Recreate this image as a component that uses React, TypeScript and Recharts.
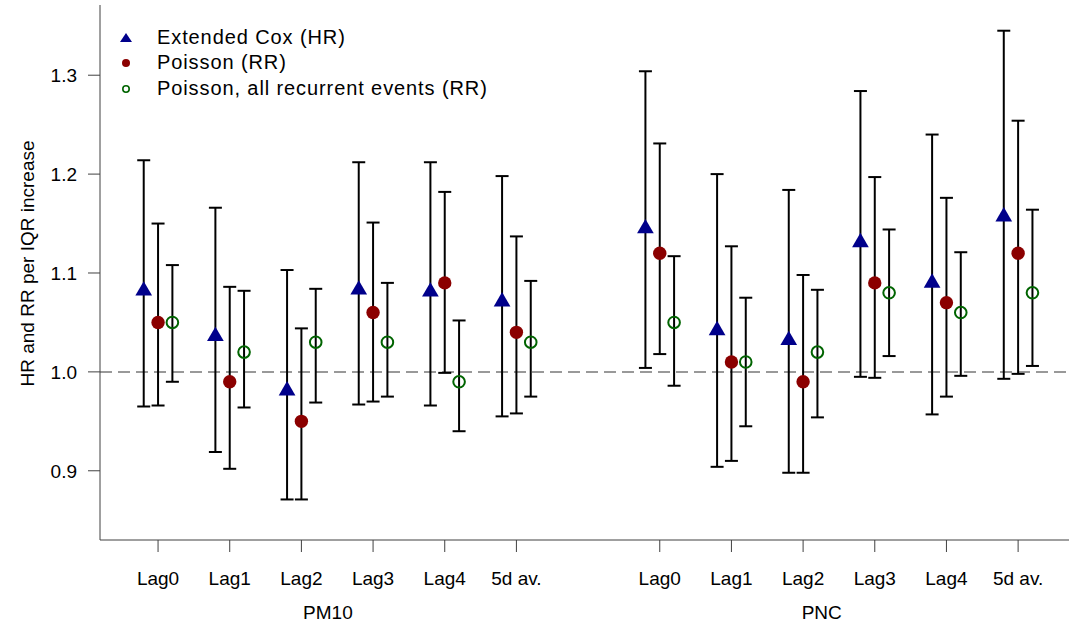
import React from "react";
import {
  ComposedChart,
  Scatter,
  ErrorBar,
  XAxis,
  YAxis,
  ReferenceLine,
} from "recharts";

// lag labels repeat for the two pollutants, PM10 at 1..6 and PNC at 8..13
const lagLabels = ["Lag0", "Lag1", "Lag2", "Lag3", "Lag4", "5d av."];
const lagPos = [1, 2, 3, 4, 5, 6, 8, 9, 10, 11, 12, 13];
const groupLabels = ["PM10", "PNC"];
const groupPos = [3.37, 10.26];
const yTicks = [0.9, 1.0, 1.1, 1.2, 1.3];

// extended Cox model, HR with 95% CI
const coxEst = [1.082, 1.036, 0.981, 1.083, 1.081, 1.071, 1.145, 1.042, 1.032, 1.131, 1.09, 1.157];
const coxLo = [0.965, 0.919, 0.871, 0.967, 0.966, 0.955, 1.004, 0.904, 0.898, 0.995, 0.957, 0.993];
const coxHi = [1.214, 1.166, 1.103, 1.212, 1.212, 1.198, 1.304, 1.2, 1.184, 1.284, 1.24, 1.345];

// Poisson, RR
const poisEst = [1.05, 0.99, 0.95, 1.06, 1.09, 1.04, 1.12, 1.01, 0.99, 1.09, 1.07, 1.12];
const poisLo = [0.966, 0.902, 0.871, 0.97, 0.999, 0.958, 1.018, 0.91, 0.898, 0.994, 0.975, 0.998];
const poisHi = [1.15, 1.086, 1.044, 1.151, 1.182, 1.137, 1.231, 1.127, 1.098, 1.197, 1.176, 1.254];

// Poisson with all recurrent events, RR
const recEst = [1.05, 1.02, 1.03, 1.03, 0.99, 1.03, 1.05, 1.01, 1.02, 1.08, 1.06, 1.08];
const recLo = [0.99, 0.964, 0.969, 0.975, 0.94, 0.975, 0.986, 0.945, 0.954, 1.016, 0.996, 1.006];
const recHi = [1.108, 1.082, 1.084, 1.09, 1.052, 1.092, 1.117, 1.075, 1.083, 1.144, 1.121, 1.164];

const xDomain = [0.19, 13.71];
const yDomain = [0.83, 1.371];

const BLUE = "#00008B";
const RED = "#8B0000";
const GREEN = "#006400";
const AXIS = "#404040";
const FONT = "'Liberation Sans', Arial, sans-serif";

const series = (est: number[], lo: number[], hi: number[], off: number) =>
  lagPos.map((p, i) => ({
    x: p + off,
    y: est[i],
    err: [est[i] - lo[i], hi[i] - est[i]],
  }));

const coxData = series(coxEst, coxLo, coxHi, -0.2);
const poisData = series(poisEst, poisLo, poisHi, 0);
const recData = series(recEst, recLo, recHi, 0.2);

const Triangle = (props: any) => {
  const { cx, cy } = props;
  const w = 16.7;
  const h = 14.4;
  return (
    <polygon
      points={`${cx},${cy - (2 * h) / 3} ${cx + w / 2},${cy + h / 3} ${cx - w / 2},${cy + h / 3}`}
      fill={BLUE}
    />
  );
};

const Dot = (props: any) => <circle cx={props.cx} cy={props.cy} r={6.7} fill={RED} />;

const Ring = (props: any) => (
  <circle cx={props.cx} cy={props.cy} r={5.8} fill="none" stroke={GREEN} strokeWidth={2} />
);

const legendRows = [
  { name: "Extended Cox (HR)", kind: "tri" },
  { name: "Poisson (RR)", kind: "dot" },
  { name: "Poisson, all recurrent events (RR)", kind: "ring" },
];

const LegendBox = () => (
  <div
    style={{
      position: "absolute",
      left: 114,
      top: 24,
      fontFamily: FONT,
      fontSize: 20,
      color: "#000",
      lineHeight: 1,
    }}
  >
    {legendRows.map((r) => (
      <div key={r.name} style={{ display: "flex", alignItems: "center", height: 25.5 }}>
        <svg width={24} height={20} style={{ marginRight: 19 }}>
          {r.kind === "tri" && <polygon points="12,6 18,15 6,15" fill={BLUE} />}
          {r.kind === "dot" && <circle cx={12} cy={11} r={4} fill={RED} />}
          {r.kind === "ring" && (
            <circle cx={12} cy={11} r={3.2} fill="none" stroke={GREEN} strokeWidth={1.6} />
          )}
        </svg>
        <span style={{ letterSpacing: 0.9 }}>{r.name}</span>
      </div>
    ))}
  </div>
);

const YLabel = (props: any) => {
  const { viewBox } = props;
  const cx = 27;
  const cy = viewBox.y + viewBox.height / 2 - 9;
  return (
    <text
      x={cx}
      y={cy}
      transform={`rotate(-90, ${cx}, ${cy})`}
      textAnchor="middle"
      dominantBaseline="central"
      fontSize={19}
      fill="#000"
    >
      HR and RR per IQR increase
    </text>
  );
};

export default function App() {
  return (
    <div style={{ position: "absolute", left: 0, top: 0, background: "#fff" }}>
      <ComposedChart
        width={1069}
        height={628}
        margin={{ top: 5, right: 0, bottom: 0, left: 40 }}
        style={{ fontFamily: FONT }}
      >
        <XAxis
          xAxisId="top"
          orientation="top"
          type="number"
          domain={xDomain}
          allowDataOverflow
          height={0}
          tick={false}
          tickLine={false}
          axisLine={{ stroke: AXIS }}
        />
        <XAxis
          type="number"
          dataKey="x"
          domain={xDomain}
          allowDataOverflow
          ticks={lagPos}
          interval={0}
          tickFormatter={(v: number) => lagLabels[lagPos.indexOf(v) % 6]}
          height={88}
          tickSize={12}
          tickMargin={20}
          axisLine={{ stroke: AXIS }}
          tickLine={{ stroke: AXIS }}
          tick={{ fill: "#000", fontSize: 19 }}
        />
        <YAxis
          type="number"
          domain={yDomain}
          allowDataOverflow
          ticks={yTicks}
          interval={0}
          tickFormatter={(v: number) => v.toFixed(1)}
          width={60}
          tickSize={12}
          tickMargin={11}
          axisLine={{ stroke: AXIS }}
          tickLine={{ stroke: AXIS }}
          tick={{ fill: "#000", fontSize: 19 }}
          label={<YLabel />}
        />
        <ReferenceLine y={1} stroke="#999" strokeWidth={2} strokeDasharray="12 6" />
        {/* pollutant names under the lag labels */}
        {groupPos.map((g, i) => (
          <ReferenceLine
            key={groupLabels[i]}
            x={g}
            stroke="none"
            label={{
              value: groupLabels[i],
              position: "bottom",
              offset: 66,
              fill: "#000",
              fontSize: 19,
            }}
          />
        ))}
        <Scatter name="Extended Cox (HR)" data={coxData} dataKey="y" shape={<Triangle />} isAnimationActive={false}>
          <ErrorBar dataKey="err" direction="y" width={6.5} stroke="#000" strokeWidth={2} isAnimationActive={false} />
        </Scatter>
        <Scatter name="Poisson (RR)" data={poisData} dataKey="y" shape={<Dot />} isAnimationActive={false}>
          <ErrorBar dataKey="err" direction="y" width={6.5} stroke="#000" strokeWidth={2} isAnimationActive={false} />
        </Scatter>
        <Scatter name="Poisson, all recurrent events (RR)" data={recData} dataKey="y" shape={<Ring />} isAnimationActive={false}>
          <ErrorBar dataKey="err" direction="y" width={6.5} stroke="#000" strokeWidth={2} isAnimationActive={false} />
        </Scatter>
      </ComposedChart>
      <LegendBox />
    </div>
  );
}
